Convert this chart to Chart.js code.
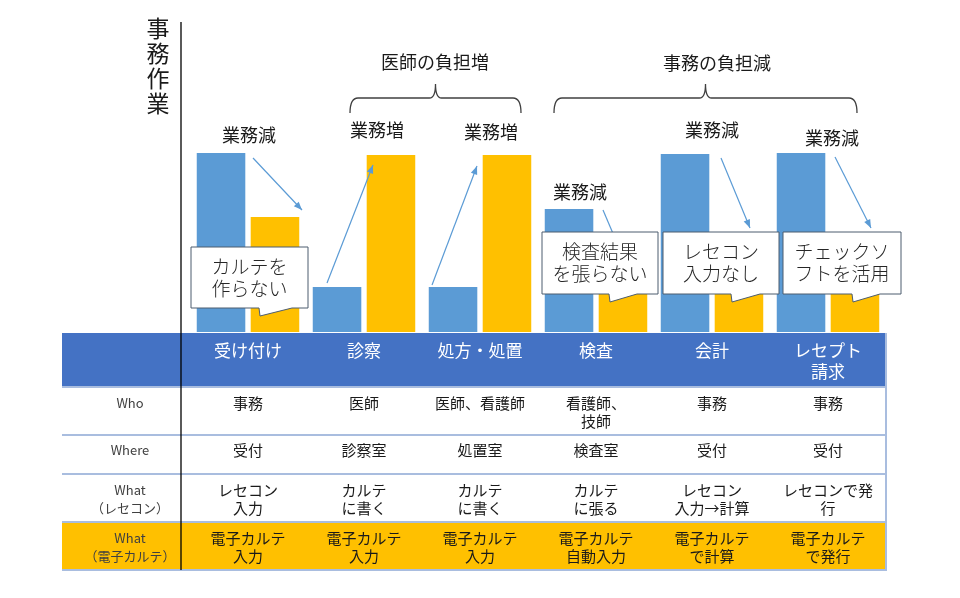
<!DOCTYPE html>
<html>
<head>
<meta charset="utf-8">
<script src="https://cdn.jsdelivr.net/npm/chart.js@4.4.1/dist/chart.umd.min.js"></script>
<style>
html, body { margin: 0; background: #fff; }
#wrap { position: relative; width: 960px; height: 598px; }
</style>
</head>
<body>
<div id="wrap"><canvas id="chart"></canvas></div>
<script>
// data
const categories = ['受け付け', '診察', '処方・処置', '検査', '会計', 'レセプト\n請求']
const receconWork = [8.95, 2.25, 2.25, 6.15, 8.9, 8.95]
const emrWork = [5.75, 8.85, 8.85, 1.9, 1.9, 1.9]
const changeLabels = ['業務減', '業務増', '業務増', '業務減', '業務減', '業務減']
const calloutTexts = ['カルテを\n作らない', null, null, '検査結果\nを張らない', 'レセコン\n入力なし', 'チェックソ\nフトを活用']
const braceLabels = ['医師の負担増', '事務の負担減']
const yAxisTitle = '事務作業'
const rowLabels = ['Who', 'Where', 'What\n（レセコン）', 'What\n（電子カルテ）']
const whoRow = ['事務', '医師', '医師、看護師', '看護師、\n技師', '事務', '事務']
const whereRow = ['受付', '診察室', '処置室', '検査室', '受付', '受付']
const whatRececonRow = ['レセコン\n入力', 'カルテ\nに書く', 'カルテ\nに書く', 'カルテ\nに張る', 'レセコン\n入力→計算', 'レセコンで発\n行']
const whatEmrRow = ['電子カルテ\n入力', '電子カルテ\n入力', '電子カルテ\n入力', '電子カルテ\n自動入力', '電子カルテ\nで計算', '電子カルテ\nで発行']

const FONT = '"Noto Sans CJK JP", "Noto Sans", sans-serif'
const BLUE = '#5B9BD5'
const ORANGE = '#FFC000'

function multiline(ctx, text, x, y, lh) {
    text.split('\n').forEach((t, k) => ctx.fillText(t, x, y + k * lh))
}

function arrow(ctx, x1, y1, x2, y2) {
    ctx.beginPath()
    ctx.moveTo(x1, y1)
    ctx.lineTo(x2, y2)
    ctx.stroke()
    let a = Math.atan2(y2 - y1, x2 - x1)
    let h = 9
    ctx.beginPath()
    ctx.moveTo(x2, y2)
    ctx.lineTo(x2 - h * Math.cos(a - 0.38), y2 - h * Math.sin(a - 0.38))
    ctx.lineTo(x2 - h * Math.cos(a + 0.38), y2 - h * Math.sin(a + 0.38))
    ctx.closePath()
    ctx.fill()
}

function brace(ctx, x1, x2, y) {
    let m = (x1 + x2) / 2
    ctx.beginPath()
    ctx.moveTo(x1, y + 15)
    ctx.quadraticCurveTo(x1, y, x1 + 8, y)
    ctx.lineTo(m - 6, y)
    ctx.quadraticCurveTo(m, y, m, y - 14)
    ctx.quadraticCurveTo(m, y, m + 6, y)
    ctx.lineTo(x2 - 8, y)
    ctx.quadraticCurveTo(x2, y, x2, y + 15)
    ctx.stroke()
}

function callout(ctx, x1, x2, y1, y2, t1, t2) {
    ctx.beginPath()
    ctx.moveTo(x1, y1)
    ctx.lineTo(x2, y1)
    ctx.lineTo(x2, y2)
    ctx.lineTo(t2, y2)
    ctx.lineTo(t1 + 1, y2 + 8)
    ctx.lineTo(t1, y2)
    ctx.lineTo(x1, y2)
    ctx.closePath()
    ctx.fillStyle = '#fff'
    ctx.fill()
    ctx.strokeStyle = '#4d5d6e'
    ctx.lineWidth = 1
    ctx.stroke()
}

// annotation layout, offsets from each category centre
const labelPos = [[1, 135], [13, 130], [11, 132], [-16, 192], [0, 130], [4, 138]]
const arrowPos = [[5, 158, 54, 210], [-37, 283, 9, 165], [-48, 285, -3, 166],
                  [7, 210, 24, 250], [9, 158, 38, 228], [7, 157, 43, 228]]
const calloutPos = [[-57, 60, 247, 308, 11, 44], null, null,
                    [-54, 62, 232, 294, 13, 41], [-49, 67, 232, 294, 19, 48], [-45, 73, 232, 294, 24, 52]]

const decorations = {
    id: 'decorations',
    afterDatasetsDraw(chart) {
        const ctx = chart.ctx
        const xs = chart.scales.x
        const cx = i => xs.getPixelForValue(i)
        ctx.save()

        // arrows
        ctx.strokeStyle = BLUE
        ctx.fillStyle = BLUE
        ctx.lineWidth = 1.2
        arrowPos.forEach((p, i) => arrow(ctx, cx(i) + p[0], p[1], cx(i) + p[2], p[3]))

        // callouts
        calloutTexts.forEach((t, i) => {
            if (!t) return
            let p = calloutPos[i]
            let c = cx(i)
            callout(ctx, c + p[0], c + p[1], p[2], p[3], c + p[4], c + p[5])
            ctx.fillStyle = '#262626'
            ctx.font = '300 19px ' + FONT
            ctx.textAlign = 'center'
            ctx.textBaseline = 'middle'
            let mid = (p[2] + p[3]) / 2
            multiline(ctx, t, c + (p[0] + p[1]) / 2, mid - 11, 22)
        })

        // change labels
        ctx.fillStyle = '#1a1a1a'
        ctx.font = '18px ' + FONT
        ctx.textAlign = 'center'
        ctx.textBaseline = 'middle'
        changeLabels.forEach((t, i) => ctx.fillText(t, cx(i) + labelPos[i][0], labelPos[i][1]))

        // braces
        ctx.strokeStyle = '#404040'
        ctx.lineWidth = 1.3
        brace(ctx, cx(1) - 14, cx(2) + 41, 98)
        brace(ctx, cx(3) - 42, cx(5) + 29, 98)
        ctx.fillText(braceLabels[0], cx(1) + 71, 62)
        ctx.fillText(braceLabels[1], cx(4) + 5, 63)

        // vertical title
        ctx.font = '23px ' + FONT
        Array.from(yAxisTitle).forEach((ch, k) => ctx.fillText(ch, 158, 28 + k * 25))

        // table
        const left = 62, right = 886
        const rows = [387, 435, 474, 522, 570]
        ctx.fillStyle = '#4472C4'
        ctx.fillRect(left, 333, right - left, rows[0] - 333)
        ctx.fillStyle = ORANGE
        ctx.fillRect(left, rows[3], right - left, rows[4] - rows[3])
        ctx.strokeStyle = '#A9BDDF'
        ctx.lineWidth = 2
        rows.forEach(y => {
            ctx.beginPath()
            ctx.moveTo(left, y)
            ctx.lineTo(right, y)
            ctx.stroke()
        })
        ctx.beginPath()
        ctx.moveTo(right, 333)
        ctx.lineTo(right, rows[4] + 1)
        ctx.stroke()

        ctx.fillStyle = '#fff'
        ctx.font = '17px ' + FONT
        categories.forEach((t, i) => multiline(ctx, t, cx(i), 351, 21))

        ctx.fillStyle = '#404040'
        ctx.font = '13px ' + FONT
        const labelY = [403, 450, 490, 538]
        rowLabels.forEach((t, r) => multiline(ctx, t, 130, labelY[r], 18))

        ctx.fillStyle = '#1a1a1a'
        ctx.font = '15px ' + FONT
        ;[whoRow, whereRow, whatRececonRow, whatEmrRow].forEach((row, r) => {
            row.forEach((t, i) => multiline(ctx, t, cx(i), labelY[r], 18))
        })

        // axis line through chart and table
        ctx.strokeStyle = '#000'
        ctx.lineWidth = 1.3
        ctx.beginPath()
        ctx.moveTo(181, 22)
        ctx.lineTo(181, rows[4])
        ctx.stroke()

        ctx.restore()
    }
}

new Chart(document.getElementById('chart'), {
    type: 'bar',
    data: {
        labels: categories,
        datasets: [
            {label: 'レセコン', data: receconWork, backgroundColor: BLUE},
            {label: '電子カルテ', data: emrWork, backgroundColor: ORANGE},
        ],
    },
    options: {
        responsive: true,
        maintainAspectRatio: false,
        animation: false,
        datasets: {
            bar: {barPercentage: 0.9, categoryPercentage: 0.93}
        },
        layout: {padding: {left: 190, right: 74, top: 22, bottom: 266}},
        scales: {
            x: {display: false},
            y: {display: false, min: 0, max: 15.5},
        },
        plugins: {
            legend: {display: false},
            tooltip: {enabled: false},
        },
    },
    plugins: [decorations],
})
</script>
</body>
</html>
